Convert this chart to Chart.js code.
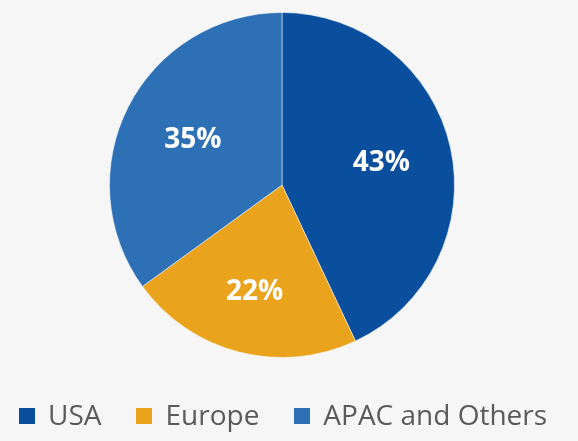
<!DOCTYPE html>
<html>
<head>
<meta charset="utf-8">
<script src="https://cdn.jsdelivr.net/npm/chart.js@4/dist/chart.umd.min.js"></script>
<style>
  html, body { margin: 0; padding: 0; background: #f6f6f6; }
  #wrap { position: relative; width: 578px; height: 441px; }
  #legend {
    position: absolute; left: 19px; top: 400px;
    display: flex; align-items: flex-start;
    font: 28px/28px "Open Sans", sans-serif; color: #5a5a5a;
    white-space: nowrap;
  }
  #legend .item { display: flex; align-items: flex-start; margin-right: 35px; }
  #legend .box { width: 16px; height: 16px; margin-top: 8px; margin-right: 13px; }
</style>
</head>
<body>
<div id="wrap">
  <canvas id="pie"></canvas>
  <div id="legend"></div>
</div>
<script>
const regions = ['USA', 'Europe', 'APAC and Others'];
const shares = [43, 22, 35];
const sliceColors = ['#0a4f9e', '#eaa31c', '#2e70b6'];
const labelRadius = [0.59, 0.64, 0.58];

// percent text inside each slice
const sliceLabels = {
  id: 'sliceLabels',
  afterDatasetsDraw(chart) {
    const ctx = chart.ctx;
    const meta = chart.getDatasetMeta(0);
    ctx.save();
    ctx.fillStyle = '#ffffff';
    ctx.font = 'bold 28px "Open Sans", sans-serif';
    ctx.textAlign = 'center';
    ctx.textBaseline = 'middle';
    meta.data.forEach((arc, i) => {
      const mid = (arc.startAngle + arc.endAngle) / 2;
      const r = arc.outerRadius * labelRadius[i];
      ctx.fillText(shares[i] + '%', arc.x + Math.cos(mid) * r, arc.y + Math.sin(mid) * r);
    });
    ctx.restore();
  }
};

new Chart(document.getElementById('pie'), {
  type: 'pie',
  data: {
    labels: regions,
    datasets: [{
      data: shares,
      backgroundColor: sliceColors,
      borderColor: 'rgba(255,255,255,0.5)',
      borderWidth: 1
    }]
  },
  options: {
    responsive: true,
    maintainAspectRatio: false,
    animation: false,
    layout: { padding: { top: 12, right: 14, bottom: 83 } },
    plugins: {
      tooltip: { enabled: false },
      legend: { display: false }
    }
  },
  plugins: [sliceLabels]
});

const legend = document.getElementById('legend');
regions.forEach((name, i) => {
  const item = document.createElement('div');
  item.className = 'item';
  const box = document.createElement('span');
  box.className = 'box';
  box.style.background = sliceColors[i];
  const txt = document.createElement('span');
  txt.textContent = name;
  item.appendChild(box);
  item.appendChild(txt);
  legend.appendChild(item);
});
</script>
</body>
</html>
